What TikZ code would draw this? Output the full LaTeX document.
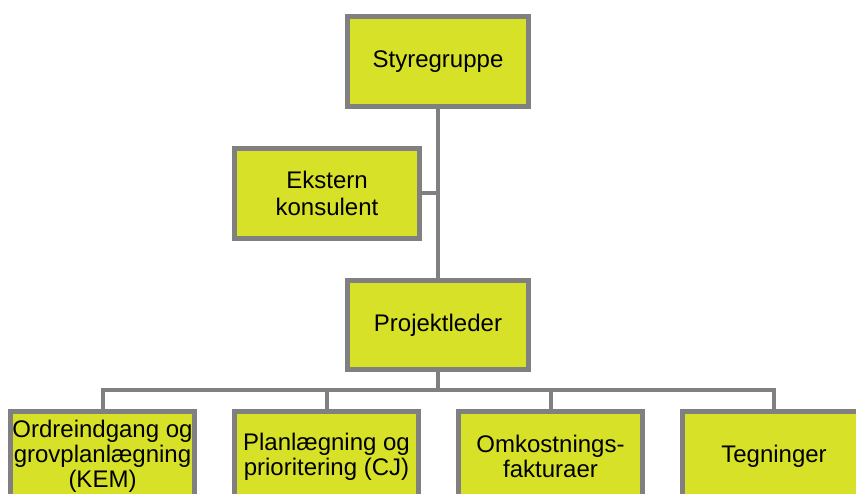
\documentclass[tikz,border=0pt]{standalone}
\usepackage{fontspec}
\setmainfont{Liberation Sans}
\definecolor{boxfill}{RGB}{215,225,40}
\definecolor{linegray}{RGB}{128,128,128}
\begin{document}
\begin{tikzpicture}[x=1pt,y=-1pt,
  orgbox/.style={draw=linegray, line width=5pt, fill=boxfill, inner sep=0pt, outer sep=0pt,
    align=center, font=\fontsize{24}{27}\selectfont, minimum height=90pt},
  conn/.style={draw=linegray, line width=4pt}]
\useasboundingbox (0,0) rectangle (856,494);
\clip (0,0) rectangle (856,494);
\node[orgbox, minimum width=181pt] (sty) at (438,61.5) {Styregruppe};
\node[orgbox, minimum width=185pt] (ek) at (327,193.5) {Ekstern\\konsulent};
\node[orgbox, minimum width=181pt, minimum height=89pt] (pl) at (438,325) {Projektleder};
\coordinate (bus) at (438,390);
\node[orgbox, minimum width=184pt, font=\fontsize{24}{25}\selectfont] (b1) at (102.5,456.5) {Ordreindgang og\\grovplanlægning\\(KEM)};
\node[orgbox, minimum width=184pt, font=\fontsize{24}{25}\selectfont] (b2) at (326.5,456.5) {Planlægning og\\prioritering (CJ)};
\node[orgbox, minimum width=184pt, font=\fontsize{24}{25}\selectfont] (b3) at (550.5,456.5) {Omkostnings-\\fakturaer};
\node[orgbox, minimum width=184pt] (b4) at (774,456.5) {Tegninger};
\draw[conn] (sty.south) -- (pl.north);
\draw[conn] (ek.east) -- (ek.east -| sty.south);
\draw[conn] (pl.south) -- (bus);
\draw[conn] (b1.north) -- (b1.north |- bus) -- (b4.north |- bus) -- (b4.north);
\draw[conn] (b2.north) -- (b2.north |- bus);
\draw[conn] (b3.north) -- (b3.north |- bus);
\end{tikzpicture}
\end{document}
